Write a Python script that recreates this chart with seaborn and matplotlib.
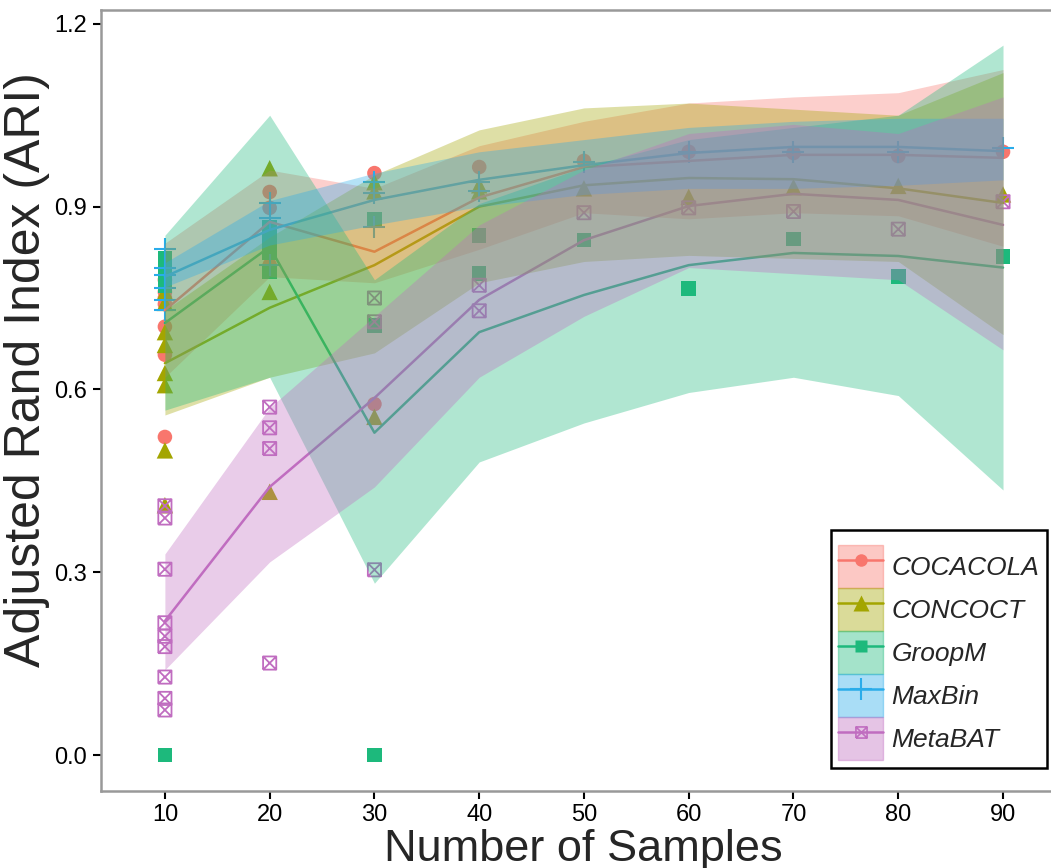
import numpy as np
import pandas as pd
import matplotlib
matplotlib.use("Agg")
import matplotlib.pyplot as plt
from matplotlib.path import Path
from matplotlib.patches import Patch
from matplotlib.lines import Line2D
from matplotlib.legend_handler import HandlerTuple
import seaborn as sns

sns.set_theme(style="white")
plt.rcParams['font.family'] = ['Liberation Sans', 'DejaVu Sans']

# ---------------- data ----------------
methods = ["COCACOLA", "CONCOCT", "GroopM", "MaxBin", "MetaBAT"]
samples = [10, 20, 30, 40, 50, 60, 70, 80, 90]

cocacola_pts = {10: [0.78, 0.76, 0.75, 0.74, 0.703, 0.657, 0.522],
                20: [0.924, 0.898, 0.865, 0.804], 30: [0.955, 0.576],
                40: [0.965], 50: [0.975], 60: [0.99], 70: [0.988], 80: [0.983], 90: [0.99]}
concoct_pts = {10: [0.76, 0.742, 0.694, 0.673, 0.627, 0.607, 0.50, 0.41],
               20: [0.963, 0.76, 0.432], 30: [0.94, 0.925, 0.555],
               40: [0.935, 0.925], 50: [0.93], 60: [0.916], 70: [0.932], 80: [0.934], 90: [0.92]}
groopm_pts = {10: [0.815, 0.80, 0.78, 0.77, 0.0],
              20: [0.866, 0.845, 0.824, 0.793], 30: [0.88, 0.705, 0.0],
              40: [0.853, 0.79], 50: [0.845], 60: [0.766], 70: [0.847], 80: [0.785], 90: [0.818]}
maxbin_pts = {10: [0.83, 0.80, 0.788, 0.767, 0.747, 0.73],
              20: [0.906, 0.882, 0.804], 30: [0.94, 0.922, 0.867],
              40: [0.94, 0.925], 50: [0.973], 60: [0.99], 70: [0.99], 80: [0.99], 90: [0.996]}
metabat_pts = {10: [0.409, 0.389, 0.305, 0.217, 0.195, 0.178, 0.128, 0.093, 0.074],
               20: [0.571, 0.537, 0.503, 0.151], 30: [0.75, 0.711, 0.304],
               40: [0.771, 0.729], 50: [0.89], 60: [0.898], 70: [0.892], 80: [0.863], 90: [0.908]}

cocacola_mean = [0.73, 0.875, 0.826, 0.915, 0.965, 0.975, 0.985, 0.985, 0.98]
concoct_mean = [0.643, 0.734, 0.804, 0.90, 0.935, 0.947, 0.945, 0.93, 0.906]
groopm_mean = [0.709, 0.834, 0.529, 0.694, 0.755, 0.804, 0.824, 0.819, 0.80]
maxbin_mean = [0.785, 0.862, 0.911, 0.944, 0.968, 0.988, 0.998, 0.998, 0.991]
metabat_mean = [0.22, 0.44, 0.586, 0.747, 0.845, 0.901, 0.921, 0.911, 0.87]

cocacola_upper = [0.84, 0.96, 0.93, 1.00, 1.04, 1.07, 1.08, 1.087, 1.125]
cocacola_lower = [0.62, 0.785, 0.775, 0.83, 0.89, 0.88, 0.89, 0.885, 0.835]
concoct_upper = [0.73, 0.85, 0.952, 1.026, 1.062, 1.07, 1.06, 1.05, 1.12]
concoct_lower = [0.558, 0.62, 0.66, 0.775, 0.81, 0.82, 0.815, 0.81, 0.69]
groopm_upper = [0.853, 1.05, 0.78, 0.905, 0.965, 1.01, 1.03, 1.05, 1.165]
groopm_lower = [0.566, 0.62, 0.282, 0.481, 0.545, 0.595, 0.62, 0.59, 0.435]
maxbin_upper = [0.808, 0.91, 0.955, 0.99, 1.01, 1.03, 1.04, 1.045, 1.045]
maxbin_lower = [0.768, 0.837, 0.87, 0.90, 0.92, 0.93, 0.93, 0.935, 0.944]
metabat_upper = [0.33, 0.57, 0.72, 0.87, 0.96, 1.02, 1.035, 1.02, 1.08]
metabat_lower = [0.14, 0.317, 0.44, 0.62, 0.72, 0.80, 0.79, 0.78, 0.665]

y_ticks = [0.0, 0.3, 0.6, 0.9, 1.2]
y_ticklabels = ["0.0", "0.3", "0.6", "0.9", "1.2"]

# ---------------- styles ----------------
colors = {"COCACOLA": "#F8766D", "CONCOCT": "#A3A500", "GroopM": "#1DB97C",
          "MaxBin": "#2AACEA", "MetaBAT": "#C06DC0"}
sqx = Path([(-1, -1), (1, -1), (1, 1), (-1, 1), (-1, -1), (-1, -1), (1, 1), (-1, 1), (1, -1)],
           [Path.MOVETO, Path.LINETO, Path.LINETO, Path.LINETO, Path.LINETO,
            Path.MOVETO, Path.LINETO, Path.MOVETO, Path.LINETO])
markers = {"COCACOLA": "o", "CONCOCT": "^", "GroopM": "s", "MaxBin": "+", "MetaBAT": sqx}
sizes = {"COCACOLA": 110, "CONCOCT": 140, "GroopM": 110, "MaxBin": 260, "MetaBAT": 90}
leg_ms = {"COCACOLA": 9, "CONCOCT": 11, "GroopM": 9, "MaxBin": 16, "MetaBAT": 8}

pts = {"COCACOLA": cocacola_pts, "CONCOCT": concoct_pts, "GroopM": groopm_pts,
       "MaxBin": maxbin_pts, "MetaBAT": metabat_pts}
means = {"COCACOLA": cocacola_mean, "CONCOCT": concoct_mean, "GroopM": groopm_mean,
         "MaxBin": maxbin_mean, "MetaBAT": metabat_mean}
uppers = {"COCACOLA": cocacola_upper, "CONCOCT": concoct_upper, "GroopM": groopm_upper,
          "MaxBin": maxbin_upper, "MetaBAT": metabat_upper}
lowers = {"COCACOLA": cocacola_lower, "CONCOCT": concoct_lower, "GroopM": groopm_lower,
          "MaxBin": maxbin_lower, "MetaBAT": metabat_lower}

rows = []
for m in methods:
    for x, vals in pts[m].items():
        for v in vals:
            rows.append((m, x, v))
df_pts = pd.DataFrame(rows, columns=["method", "samples", "ari"])

RIB_ALPHA = 0.35

fig = plt.figure(figsize=(10.51, 8.68), dpi=100)
ax = fig.add_axes([0.096, 0.0887, 0.904, 0.9])

# points
for m in methods:
    d = df_pts[df_pts.method == m]
    c = colors[m]
    if m == "MaxBin":
        sns.scatterplot(data=d, x="samples", y="ari", ax=ax, marker="+", s=sizes[m],
                        color=c, linewidth=1.5, zorder=2, legend=False)
    elif m == "MetaBAT":
        sns.scatterplot(data=d, x="samples", y="ari", ax=ax, marker=sqx, s=sizes[m],
                        color=c, facecolor="none", edgecolor=c, linewidth=1.3, zorder=2, legend=False)
    else:
        sns.scatterplot(data=d, x="samples", y="ari", ax=ax, marker=markers[m], s=sizes[m],
                        color=c, edgecolor="none", linewidth=0, zorder=2, legend=False)

# mean lines
for m in methods:
    sns.lineplot(x=samples, y=means[m], ax=ax, color=colors[m], lw=1.8, zorder=3,
                 legend=False)

# ribbons
for m in methods:
    ax.fill_between(samples, lowers[m], uppers[m], color=colors[m], alpha=RIB_ALPHA,
                    lw=0, zorder=4)

ax.set_xlim(3.89, 94.58)
ax.set_ylim(-0.059, 1.223)
ax.set_xticks(samples)
ax.set_xticklabels([str(s) for s in samples])
ax.set_yticks(y_ticks)
ax.set_yticklabels(y_ticklabels)
ax.tick_params(axis="both", labelsize=17, colors="black", length=6, width=1.5,
               direction="out", bottom=True, left=True)
ax.tick_params(axis="x", pad=3)
ax.tick_params(axis="y", pad=4)
for s in ["left", "bottom", "top"]:
    ax.spines[s].set_visible(True)
    ax.spines[s].set_color("#999999")
    ax.spines[s].set_linewidth(1.8)
ax.spines["right"].set_visible(False)
ax.grid(False)

ax.set_xlabel("Number of Samples", fontsize=32.5)
ax.set_ylabel("Adjusted Rand Index (ARI)", fontsize=36)
ax.xaxis.set_label_coords(0.508, -0.049)
ax.yaxis.set_label_coords(-0.054, 0.54)

# legend
handles = []
for m in methods:
    c = colors[m]
    p = Patch(facecolor=c, alpha=0.4, edgecolor=c, lw=1)
    if m == "MetaBAT":
        ln = Line2D([], [], color=c, lw=1.8, marker=sqx, markersize=leg_ms[m],
                    markerfacecolor="none", markeredgecolor=c, markeredgewidth=1.2)
    elif m == "MaxBin":
        ln = Line2D([], [], color=c, lw=1.8, marker="+", markersize=leg_ms[m],
                    markeredgewidth=1.5)
    else:
        ln = Line2D([], [], color=c, lw=1.8, marker=markers[m], markersize=leg_ms[m],
                    markeredgecolor="none")
    handles.append((p, ln))

leg = fig.legend(handles, methods, loc="lower right",
                 bbox_to_anchor=(1047 / 1051, 1 - 768 / 868),
                 handler_map={tuple: HandlerTuple(ndivide=1)},
                 prop={"size": 19, "style": "italic"},
                 title=" ", title_fontsize=6,
                 handlelength=1.7, handleheight=2.13, labelspacing=0.0,
                 handletextpad=0.3, borderpad=0.3, borderaxespad=0.0,
                 frameon=True, fancybox=False, framealpha=1, edgecolor="black")
leg.get_frame().set_linewidth(1.8)

fig.savefig("out.png", dpi=100)
